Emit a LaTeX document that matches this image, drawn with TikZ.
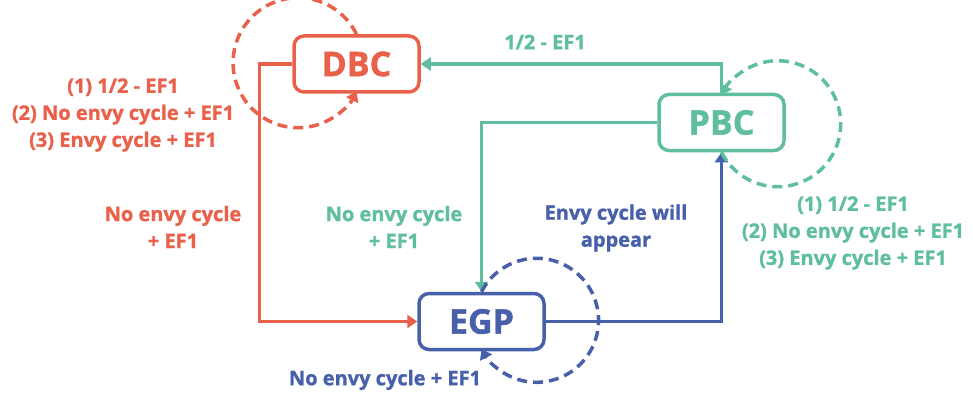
\documentclass[tikz,border=0pt]{standalone}
\usepackage{fontspec}
\setmainfont{Open Sans}[BoldFeatures={FakeBold=1.2}]
\usepackage{tikz}
\usetikzlibrary{arrows.meta}
\definecolor{dbcred}{RGB}{233,97,75}
\definecolor{pbcgreen}{RGB}{96,190,160}
\definecolor{egpblue}{RGB}{72,96,170}

\begin{document}
\begin{tikzpicture}[x=1pt,y=-1pt,
        stagebox/.style={draw,line width=3.5pt,rounded corners=10pt,minimum width=125pt,minimum height=56pt,font=\fontsize{34}{34}\selectfont\bfseries},
        txt/.style={align=center,font=\fontsize{20}{27}\selectfont\bfseries},
        link/.style={line width=3.5pt,-{Triangle[length=10pt,width=13pt]}},
        selfloop/.style={link,dash pattern=on 10pt off 6pt}]
        \useasboundingbox (0,0) rectangle (973,401);
        \node[stagebox,dbcred] (dbc) at (356.5,64) {DBC};
        \node[stagebox,pbcgreen] (pbc) at (721.5,122.5) {PBC};
        \node[stagebox,egpblue] (egp) at (481.5,321.5) {EGP};
        \draw[link,dbcred] (dbc.west) -- ++(-33,0) |- (egp.west);
        \draw[link,pbcgreen] (pbc.north) |- (dbc.east);
        \draw[link,pbcgreen] (pbc.west) -| (egp.north);
        \draw[link,egpblue] (egp.east) -| (pbc.south);
        \draw[selfloop,dbcred] (dbc.north) arc[start angle=-26, end angle=-334, radius=65];
        \draw[selfloop,pbcgreen] (pbc.south) arc[start angle=153.1, end angle=-153.1, radius=63];
        \draw[selfloop,egpblue] (egp.north) arc[start angle=-152.6, end angle=152.6, radius=62];
        \node[txt,dbcred] (dbcloop) at (123,115) {(1) 1/2 - EF1\\(2) No envy cycle + EF1\\(3) Envy cycle + EF1};
        \node[txt,dbcred] (dbcegp) at (173,227) {No envy cycle\\+ EF1};
        \node[txt,pbcgreen] (pbcdbc) at (545,42) {1/2 - EF1};
        \node[txt,pbcgreen] (pbcloop) at (853,233) {(1) 1/2 - EF1\\(2) No envy cycle + EF1\\(3) Envy cycle + EF1};
        \node[txt,pbcgreen] (pbcegp) at (394,227) {No envy cycle\\+ EF1};
        \node[txt,egpblue] (egppbc) at (616,228) {Envy cycle will\\appear};
        \node[txt,egpblue] (egploop) at (385,380) {No envy cycle + EF1};
        \end{tikzpicture}
\end{document}
